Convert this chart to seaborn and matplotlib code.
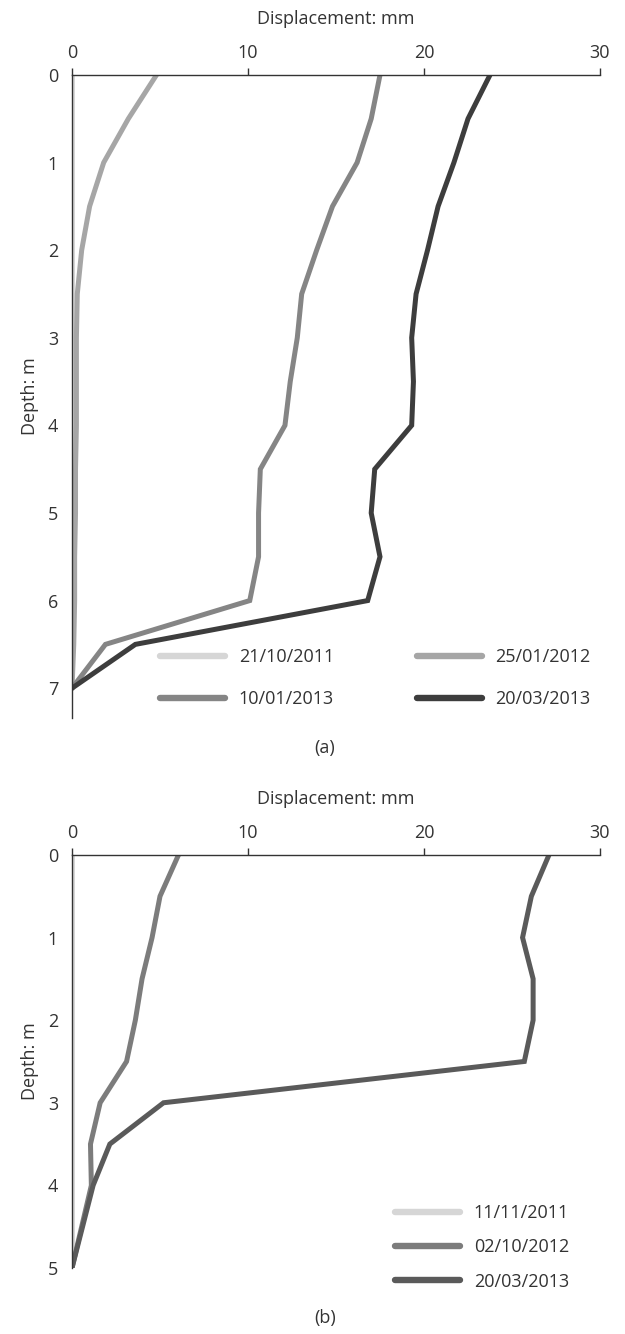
import matplotlib
matplotlib.use("Agg")
import matplotlib.pyplot as plt
import seaborn as sns
import pandas as pd
from matplotlib.lines import Line2D

sns.set_style("white")
plt.rcParams['font.family'] = ['Open Sans', 'DejaVu Sans']

# ---- Panel (a) data ----
depth_a = [0, 0.5, 1.0, 1.5, 2.0, 2.5, 3.0, 3.5, 4.0, 4.5, 5.0, 5.5, 6.0, 6.5, 7.0]
a_21_10_2011 = [0, 0, 0, 0, 0, 0, 0, 0, 0, 0, 0, 0, 0, 0, 0]
a_25_01_2012 = [4.8, 3.2, 1.8, 1.0, 0.55, 0.3, 0.25, 0.25, 0.25, 0.2, 0.2, 0.15, 0.15, 0.1, 0]
a_10_01_2013 = [17.5, 17.0, 16.2, 14.8, 13.9, 13.05, 12.8, 12.4, 12.1, 10.7, 10.6, 10.6, 10.1, 1.9, 0]
a_20_03_2013 = [23.75, 22.5, 21.7, 20.8, 20.2, 19.55, 19.3, 19.4, 19.3, 17.2, 17.0, 17.5, 16.8, 3.6, 0]
labels_a = ['21/10/2011', '25/01/2012', '10/01/2013', '20/03/2013']
colors_a = ['#d6d6d6', '#a6a6a6', '#858585', '#3d3d3d']

# ---- Panel (b) data ----
depth_b = [0, 0.5, 1.0, 1.5, 2.0, 2.5, 3.0, 3.5, 4.0, 4.5, 5.0]
b_11_11_2011 = [0, 0, 0, 0, 0, 0, 0, 0, 0, 0, 0]
b_02_10_2012 = [6.05, 5.0, 4.55, 3.98, 3.6, 3.1, 1.6, 1.05, 1.1, 0.55, 0]
b_20_03_2013 = [27.1, 26.1, 25.6, 26.2, 26.2, 25.7, 5.2, 2.15, 1.2, 0.6, 0]
labels_b = ['11/11/2011', '02/10/2012', '20/03/2013']
colors_b = ['#d6d6d6', '#7c7c7c', '#5a5a5a']

xticks = [0, 10, 20, 30]

def long_df(depth, series, labels):
    rows = []
    for vals, lab in zip(series, labels):
        for d, v in zip(depth, vals):
            rows.append({'Depth': d, 'Displacement': v, 'Date': lab})
    return pd.DataFrame(rows)

df_a = long_df(depth_a, [a_21_10_2011, a_25_01_2012, a_10_01_2013, a_20_03_2013], labels_a)
df_b = long_df(depth_b, [b_11_11_2011, b_02_10_2012, b_20_03_2013], labels_b)

fig = plt.figure(figsize=(6.25, 13.34), dpi=100)
ax_a = fig.add_axes([0.1152, 0.4618, 0.8448, 0.482])
ax_b = fig.add_axes([0.1152, 0.0495, 0.8448, 0.3096])

axis_col = '#333333'
text_col = '#333333'
fs = 13
lw = 3.6

def style_axis(ax, ymax, yticks):
    ax.set_xlim(0, 30)
    ax.set_ylim(ymax, 0)
    ax.xaxis.tick_top()
    ax.xaxis.set_label_position('top')
    ax.set_xticks(xticks)
    ax.set_yticks(yticks)
    ax.tick_params(axis='x', direction='out', length=5, width=1, color=axis_col,
                   labelsize=fs, labelcolor=text_col, pad=4)
    ax.tick_params(axis='y', direction='out', length=5, width=1, color=axis_col,
                   labelsize=fs, labelcolor=text_col, pad=5)
    for s in ['right', 'bottom']:
        ax.spines[s].set_visible(False)
    for s in ['top', 'left']:
        ax.spines[s].set_visible(True)
        ax.spines[s].set_color(axis_col)
        ax.spines[s].set_linewidth(1)
    ax.set_xlabel('Displacement: mm', fontsize=fs, color=text_col, labelpad=15)
    ax.set_ylabel('Depth: m', fontsize=fs, color=text_col, labelpad=6)

sns.lineplot(data=df_a, x='Displacement', y='Depth', hue='Date', hue_order=labels_a,
             palette=dict(zip(labels_a, colors_a)), sort=False, orient='y',
             linewidth=lw, legend=False, ax=ax_a)
style_axis(ax_a, 7.34, range(0, 8))
for ln in ax_a.lines:
    ln.set_solid_joinstyle('miter')
h_a = [Line2D([0], [0], color=c, lw=lw + 1, solid_capstyle='round') for c in colors_a]
order = [0, 2, 1, 3]
ax_a.legend([h_a[i] for i in order], [labels_a[i] for i in order], ncol=2, frameon=False,
            loc='center left', bbox_to_anchor=(0.167, 0.062), borderaxespad=0, borderpad=0,
            fontsize=fs, handlelength=3.6, handletextpad=0.75, columnspacing=4.6,
            labelspacing=1.35, labelcolor=text_col)

sns.lineplot(data=df_b, x='Displacement', y='Depth', hue='Date', hue_order=labels_b,
             palette=dict(zip(labels_b, colors_b)), sort=False, orient='y',
             linewidth=lw, legend=False, ax=ax_b)
style_axis(ax_b, 5, range(0, 6))
for ln in ax_b.lines:
    ln.set_solid_joinstyle('miter')
h_b = [Line2D([0], [0], color=c, lw=lw + 1, solid_capstyle='round') for c in colors_b]
ax_b.legend(h_b, labels_b, ncol=1, frameon=False,
            loc='center left', bbox_to_anchor=(0.612, 0.05), borderaxespad=0, borderpad=0,
            fontsize=fs, handlelength=3.6, handletextpad=0.75, labelspacing=0.9,
            labelcolor=text_col)

fig.text(0.52, 1 - 748 / 1334, '(a)', ha='center', va='center', fontsize=fs, color=text_col)
fig.text(0.52, 1 - 1318 / 1334, '(b)', ha='center', va='center', fontsize=fs, color=text_col)

fig.savefig('out.png', dpi=100, facecolor='white')
